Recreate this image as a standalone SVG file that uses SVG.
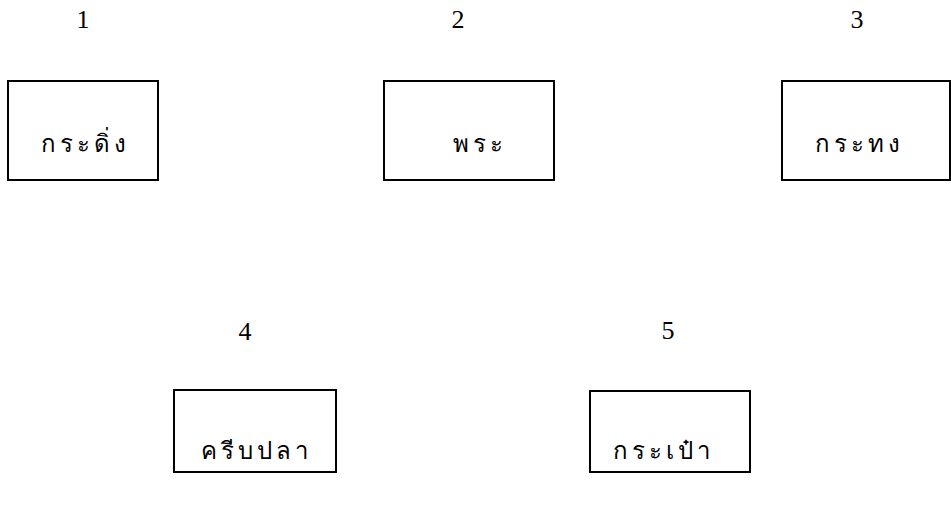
<svg xmlns="http://www.w3.org/2000/svg" width="951" height="516" viewBox="0 0 951 516">
<style>
.box{fill:#fff;stroke:#000;stroke-width:2}
.num{font-family:"Liberation Serif",serif;font-size:26px;fill:#000;text-anchor:middle}
.lbl{font-family:"Noto Sans","DejaVu Sans",sans-serif;font-size:24px;fill:#000;text-anchor:middle;letter-spacing:4px}
</style>
<rect width="951" height="516" fill="#fff"/>
<g id="connectors"></g>
<g id="n1">
<text class="num" x="83" y="28">1</text>
<rect class="box" x="8" y="81" width="150" height="99"/>
<text class="lbl" x="85" y="152">กระดิ่ง</text>
</g>
<g id="n2">
<text class="num" x="458" y="28">2</text>
<rect class="box" x="384" y="81" width="170" height="99"/>
<text class="lbl" x="480" y="152">พระ</text>
</g>
<g id="n3">
<text class="num" x="857" y="28">3</text>
<rect class="box" x="782" y="81" width="168" height="99"/>
<text class="lbl" x="859" y="152">กระทง</text>
</g>
<g id="n4">
<text class="num" x="245" y="340">4</text>
<rect class="box" x="174" y="390" width="162" height="82"/>
<text class="lbl" x="256" y="459">ครีบปลา</text>
</g>
<g id="n5">
<text class="num" x="668" y="339">5</text>
<rect class="box" x="590" y="391" width="160" height="81"/>
<text class="lbl" x="663" y="459">กระเป๋า</text>
</g>
</svg>
